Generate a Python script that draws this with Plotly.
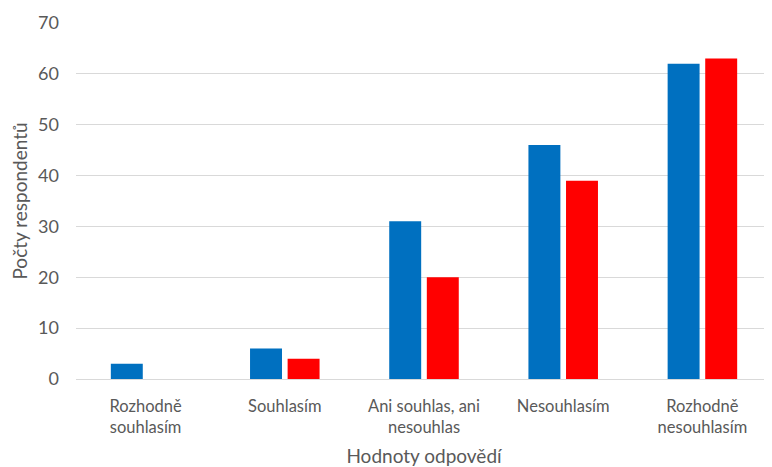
import plotly.graph_objects as go

categories = ["Rozhodně<br>souhlasím", "Souhlasím", "Ani souhlas, ani<br>nesouhlas",
              "Nesouhlasím", "Rozhodně<br>nesouhlasím"]
series_a = [3, 6, 31, 46, 62]
series_b = [0, 4, 20, 39, 63]
y_ticks = [0, 10, 20, 30, 40, 50, 60, 70]

font_family = "Lato, 'Open Sans', sans-serif"
grey = "#595959"

fig = go.Figure()
fig.add_trace(go.Bar(x=categories, y=series_a, marker_color="#0070C0",
                     marker_line_width=0, name="A"))
fig.add_trace(go.Bar(x=categories, y=series_b, marker_color="#FF0000",
                     marker_line_width=0, name="B"))

fig.update_layout(
    width=764, height=459,
    margin=dict(l=68, r=0, t=15, b=88),
    paper_bgcolor="white", plot_bgcolor="white",
    barmode="group", bargap=0.46, bargroupgap=0.15,
    showlegend=False,
    font=dict(family=font_family, color=grey),
)
fig.update_xaxes(
    showgrid=False, showline=True, linecolor="#d9d9d9", linewidth=1,
    ticks="", tickfont=dict(size=16.5, color=grey), ticklabelstandoff=12,
    title=dict(text="Hodnoty odpovědí", font=dict(size=19, color=grey), standoff=13),
)
fig.update_yaxes(
    range=[0, 70], tickvals=y_ticks, showgrid=True, gridcolor="#d9d9d9", gridwidth=1,
    zeroline=False, ticks="", tickfont=dict(size=18, color=grey), ticklabelstandoff=16,
    title=dict(text="Počty respondentů", font=dict(size=19, color=grey), standoff=14),
)

fig.write_html("out.html")
